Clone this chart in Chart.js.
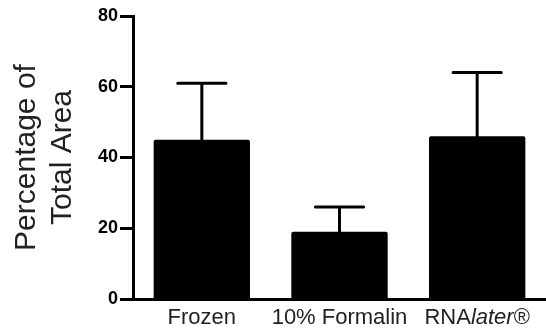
<!DOCTYPE html>
<html>
<head>
<meta charset="utf-8">
<script src="https://cdn.jsdelivr.net/npm/chart.js@4"></script>
<style>
  html, body { margin: 0; padding: 0; background: #fff; }
  #wrap { width: 546px; height: 333px; }
</style>
</head>
<body>
<div id="wrap"><canvas id="areaChart"></canvas></div>
<script>
// values
const categories = ['Frozen', '10% Formalin', 'RNAlater®'];
const italicParts = ['', '', 'later'];
const meanValues = [45, 19, 46];
const errorValues = [16, 7, 18];
const yTicks = [0, 20, 40, 60, 80];
const yTitle = ['Percentage of', 'Total Area'];

const FONT = "'Liberation Sans', Arial, Helvetica, sans-serif";

// error bars (upper only) on top of each bar
const errorBars = {
  id: 'errorBars',
  afterDatasetsDraw(chart) {
    const ctx = chart.ctx;
    const y = chart.scales.y;
    const meta = chart.getDatasetMeta(0);
    ctx.save();
    ctx.strokeStyle = '#000';
    ctx.lineWidth = 3;
    ctx.lineCap = 'round';
    meta.data.forEach((bar, i) => {
      const top = y.getPixelForValue(meanValues[i] + errorValues[i]);
      const half = bar.width / 4;
      ctx.beginPath();
      ctx.moveTo(bar.x, bar.y);
      ctx.lineTo(bar.x, top);
      ctx.moveTo(bar.x - half, top);
      ctx.lineTo(bar.x + half, top);
      ctx.stroke();
    });
    ctx.restore();
  }
};

// category labels, with the italic part of RNAlater
const xLabels = {
  id: 'xLabels',
  afterDraw(chart) {
    const ctx = chart.ctx;
    const x = chart.scales.x;
    const size = 22;
    const baseY = x.top + 25;
    ctx.save();
    ctx.fillStyle = '#222';
    ctx.textBaseline = 'alphabetic';
    ctx.textAlign = 'left';
    categories.forEach((label, i) => {
      let parts = [{ t: label, it: false }];
      const ip = italicParts[i];
      if (ip && label.indexOf(ip) >= 0) {
        const k = label.indexOf(ip);
        parts = [
          { t: label.slice(0, k), it: false },
          { t: ip, it: true },
          { t: label.slice(k + ip.length), it: false }
        ];
      }
      let total = 0;
      parts.forEach(p => {
        ctx.font = (p.it ? 'italic ' : '') + size + 'px ' + FONT;
        p.w = ctx.measureText(p.t).width;
        total += p.w;
      });
      let cx = x.getPixelForValue(i) - total / 2;
      parts.forEach(p => {
        ctx.font = (p.it ? 'italic ' : '') + size + 'px ' + FONT;
        ctx.fillText(p.t, cx, baseY);
        cx += p.w;
      });
    });
    ctx.restore();
  }
};

new Chart(document.getElementById('areaChart'), {
  type: 'bar',
  data: {
    labels: categories,
    datasets: [{
      data: meanValues,
      backgroundColor: '#000',
      borderColor: '#000',
      borderWidth: 0,
      borderRadius: 2,
      borderSkipped: 'bottom',
      barPercentage: 0.7,
      categoryPercentage: 1.0
    }]
  },
  options: {
    responsive: true,
    maintainAspectRatio: false,
    animation: false,
    layout: { padding: { top: 16, right: -8, bottom: 0, left: 0 } },
    plugins: {
      legend: { display: false },
      tooltip: { enabled: false }
    },
    scales: {
      x: {
        afterFit(scale) { scale.height = 34; },
        grid: { display: false },
        border: { display: true, color: '#000', width: 3 },
        ticks: {
          color: 'rgba(0,0,0,0)',
          font: { family: FONT, size: 22 },
          padding: 4,
          maxRotation: 0,
          minRotation: 0,
          autoSkip: false
        }
      },
      y: {
        min: 0,
        max: 80,
        afterFit(scale) { scale.width = 133; },
        afterBuildTicks(scale) { scale.ticks = yTicks.map(v => ({ value: v })); },
        grid: {
          drawOnChartArea: false,
          drawTicks: true,
          tickLength: 13,
          tickWidth: 3,
          tickColor: '#000'
        },
        border: { display: true, color: '#000', width: 3 },
        ticks: {
          color: '#000',
          padding: 2,
          font: { family: FONT, size: 18, weight: 'bold' }
        },
        title: {
          display: true,
          text: yTitle,
          color: '#222',
          font: { family: FONT, size: 30, lineHeight: 1.2 },
          padding: { top: 9, bottom: 0 }
        }
      }
    }
  },
  plugins: [errorBars, xLabels]
});
</script>
</body>
</html>
